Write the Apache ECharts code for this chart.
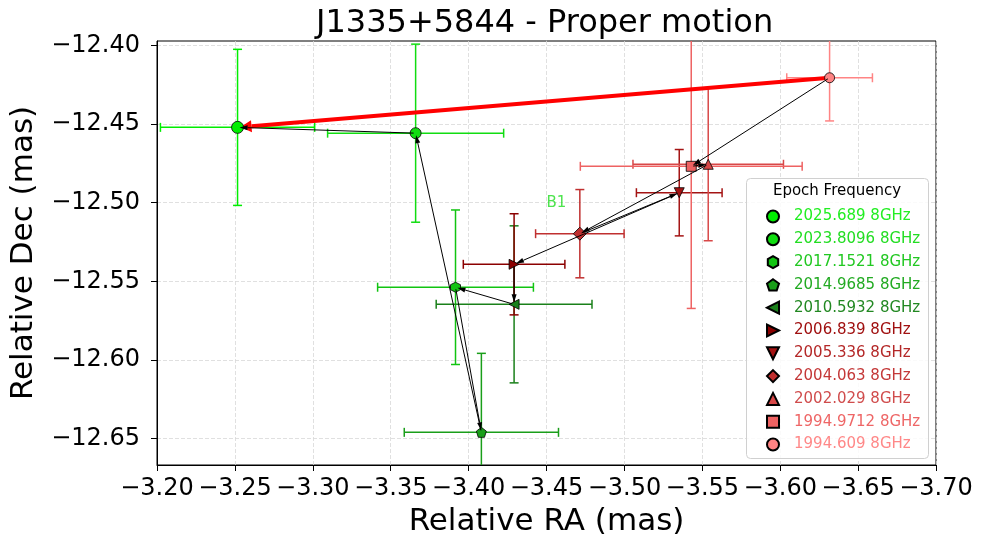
<!DOCTYPE html>
<html>
<head>
<meta charset="utf-8">
<script src="https://cdn.jsdelivr.net/npm/echarts@6/dist/echarts.min.js"></script>
<style>html,body{margin:0;padding:0;background:#fff}#chart{width:981px;height:545px}</style>
</head>
<body>
<div id="chart"></div>
<script>
// epochs, newest first (same order as the legend)
var epochs = ['2025.689', '2023.8096', '2017.1521', '2014.9685', '2010.5932', '2006.839', '2005.336', '2004.063', '2002.029', '1994.9712', '1994.609'];
var ra = [-3.2517, -3.3660, -3.3916, -3.4082, -3.4292, -3.4292, -3.5352, -3.4714, -3.5538, -3.5429, -3.6317];
var dec = [-12.4520, -12.4557, -12.5538, -12.6462, -12.5647, -12.5392, -12.4936, -12.5197, -12.4755, -12.4768, -12.4204];
var raErr = [0.0495, 0.0565, 0.0500, 0.0495, 0.0500, 0.0326, 0.0275, 0.0284, 0.0483, 0.0712, 0.0275];
var decErr = [0.0497, 0.0567, 0.0492, 0.0503, 0.0500, 0.0322, 0.0275, 0.0281, 0.0487, 0.0905, 0.0275];
// order in which the black arrows join the epochs (indices into epochs)
var arrowPath = [10, 9, 8, 7, 6, 5, 4, 2, 3, 1, 0];
var yTicks = [-12.65, -12.60, -12.55, -12.50, -12.45, -12.40];
var xRange = [-3.70, -3.20];
var yRange = [-12.667, -12.397];
var band = {text: 'B1', ra: -3.45, dec: -12.50};

var markerColors = ['#00ee00', '#11dd11', '#11c411', '#1a9e1a', '#1a801a', '#8b0000', '#a41414', '#c03030', '#d84848', '#ee6262', '#ff8484'];
var textColors = ['#22ee22', '#22dd22', '#22c822', '#22aa22', '#228822', '#a01010', '#b42828', '#c43838', '#d04c4c', '#ee6666', '#ff8888'];
var symbols = [
  'circle', 'circle',
  'path://M0,-1 L0.866,-0.5 L0.866,0.5 L0,1 L-0.866,0.5 L-0.866,-0.5 Z',
  'path://M0,-1 L0.951,-0.309 L0.588,0.809 L-0.588,0.809 L-0.951,-0.309 Z',
  'path://M-1,0 L1,-1 L1,1 Z',
  'path://M1,0 L-1,-1 L-1,1 Z',
  'path://M-1,-1 L1,-1 L0,1 Z',
  'diamond', 'triangle', 'rect', 'circle'
];
var sizes = [12, 11, 10, 10, 10, 10, 10, 13, 10, 10, 10];

var FONT = 'DejaVu Sans';
function fmt(v) {
  return (v < 0 ? '\u2212' : '') + Math.abs(v).toFixed(2);
}

var chart = echarts.init(document.getElementById('chart'));

var errData = epochs.map(function (e, i) { return [ra[i], dec[i], raErr[i], decErr[i], i]; });
var arrowData = [];
for (var k = 0; k < arrowPath.length - 1; k++) {
  var a = arrowPath[k], b = arrowPath[k + 1];
  arrowData.push([ra[a], dec[a], ra[b], dec[b]]);
}
var first = arrowPath[0], last = arrowPath[arrowPath.length - 1];
var bigArrow = [[ra[first], dec[first], ra[last], dec[last]]];

function errorBars(params, api) {
  var x = api.value(0), y = api.value(1), ex = api.value(2), ey = api.value(3);
  var c = api.coord([x, y]);
  var l = api.coord([x - ex, y]), r = api.coord([x + ex, y]);
  var t = api.coord([x, y + ey]), b = api.coord([x, y - ey]);
  var st = {stroke: markerColors[api.value(4)], lineWidth: 1.5};
  var cap = 4.5;
  return {
    type: 'group',
    children: [
      {type: 'line', shape: {x1: l[0], y1: c[1], x2: r[0], y2: c[1]}, style: st},
      {type: 'line', shape: {x1: c[0], y1: t[1], x2: c[0], y2: b[1]}, style: st},
      {type: 'line', shape: {x1: l[0], y1: c[1] - cap, x2: l[0], y2: c[1] + cap}, style: st},
      {type: 'line', shape: {x1: r[0], y1: c[1] - cap, x2: r[0], y2: c[1] + cap}, style: st},
      {type: 'line', shape: {x1: c[0] - cap, y1: t[1], x2: c[0] + cap, y2: t[1]}, style: st},
      {type: 'line', shape: {x1: c[0] - cap, y1: b[1], x2: c[0] + cap, y2: b[1]}, style: st}
    ]
  };
}

function arrowRenderer(opt) {
  return function (params, api) {
    var p1 = api.coord([api.value(0), api.value(1)]);
    var p2 = api.coord([api.value(2), api.value(3)]);
    var dx = p2[0] - p1[0], dy = p2[1] - p1[1];
    var len = Math.sqrt(dx * dx + dy * dy) || 1;
    var ux = dx / len, uy = dy / len;
    var sx = p1[0] + ux * opt.shrinkA, sy = p1[1] + uy * opt.shrinkA;
    var tx = p2[0] - ux * opt.shrinkB, ty = p2[1] - uy * opt.shrinkB;
    var bx = tx - ux * opt.head, by = ty - uy * opt.head;
    var nx = -uy * opt.width / 2, ny = ux * opt.width / 2;
    return {
      type: 'group',
      children: [
        {type: 'line', shape: {x1: sx, y1: sy, x2: bx, y2: by}, style: {stroke: opt.color, lineWidth: opt.lw}},
        {type: 'polygon', shape: {points: [[tx, ty], [bx + nx, by + ny], [bx - nx, by - ny]]}, style: {fill: opt.color}}
      ]
    };
  };
}

var series = [
  {
    type: 'custom', name: 'err', renderItem: errorBars, data: errData, clip: true, z: 1,
    encode: {x: 0, y: 1}, silent: true
  },
  {
    type: 'custom', name: 'motion', clip: true, z: 2, silent: true,
    renderItem: arrowRenderer({color: '#ff0000', lw: 4, head: 11, width: 12, shrinkA: 0, shrinkB: 3}),
    data: bigArrow, encode: {x: [0, 2], y: [1, 3]}
  }
];
epochs.forEach(function (e, i) {
  series.push({
    type: 'scatter', name: e + ' 8GHz', z: 3,
    symbol: symbols[i], symbolSize: sizes[i],
    itemStyle: {color: markerColors[i], borderColor: '#000', borderWidth: 0.8, opacity: 1},
    data: [[ra[i], dec[i]]]
  });
});
series.push({
  type: 'custom', name: 'path', clip: true, z: 4, silent: true,
  renderItem: arrowRenderer({color: '#000', lw: 1, head: 8, width: 5, shrinkA: 2, shrinkB: 2}),
  data: arrowData, encode: {x: [0, 2], y: [1, 3]}
});
series.push({
  type: 'scatter', name: 'band', z: 4, symbolSize: 0, silent: true,
  data: [[band.ra, band.dec]],
  label: {show: true, formatter: band.text, position: 'right', distance: 0,
    color: '#22dd22', fontFamily: FONT, fontSize: 15}
});

var option = {
  animation: false,
  backgroundColor: '#fff',
  textStyle: {fontFamily: FONT},
  title: {
    text: 'J1335+5844 - Proper motion',
    left: 311, top: 3,
    textStyle: {fontFamily: FONT, fontSize: 32, fontWeight: 'normal', color: '#000'}
  },
  grid: {left: 154, right: 45, top: 41, bottom: 80, show: true, borderColor: '#000', borderWidth: 1, backgroundColor: 'transparent'},
  xAxis: {
    type: 'value', inverse: true, min: xRange[0], max: xRange[1], interval: 0.05,
    name: 'Relative RA (mas)', nameLocation: 'middle', nameGap: 41,
    nameTextStyle: {fontFamily: FONT, fontSize: 31, color: '#000'},
    axisLine: {show: true, onZero: false, lineStyle: {color: '#000', width: 1}},
    axisTick: {show: true, length: 6, lineStyle: {color: '#000'}},
    axisLabel: {formatter: fmt, fontFamily: FONT, fontSize: 24, color: '#000', margin: 12},
    splitLine: {show: true, lineStyle: {color: '#d8d8d8', type: [4, 2], width: 0.8}}
  },
  yAxis: {
    type: 'value', min: yRange[0], max: yRange[1],
    name: 'Relative Dec (mas)', nameLocation: 'middle', nameGap: 118,
    nameTextStyle: {fontFamily: FONT, fontSize: 31, color: '#000'},
    axisLine: {show: true, onZero: false, lineStyle: {color: '#000', width: 1}},
    axisTick: {show: true, length: 6, lineStyle: {color: '#000'}, customValues: yTicks},
    axisLabel: {formatter: fmt, fontFamily: FONT, fontSize: 24, color: '#000', margin: 17, customValues: yTicks},
    splitLine: {show: true, lineStyle: {color: '#d8d8d8', type: [4, 2], width: 0.8}}
  },
  legend: {
    orient: 'vertical', left: 761, top: 204, z: 12,
    itemWidth: 12, itemHeight: 12, itemGap: 7.8,
    data: epochs.map(function (e, i) {
      return {name: e + ' 8GHz', textStyle: {color: textColors[i]}};
    }),
    textStyle: {fontFamily: FONT, fontSize: 15, lineHeight: 15, padding: [0, 0, 0, 10]},
    selectedMode: false
  },
  graphic: [
    {type: 'rect', left: 746, top: 178, z: 10,
      shape: {width: 182, height: 280, r: 4},
      style: {fill: 'rgba(255,255,255,0.82)', stroke: '#d0d0d0', lineWidth: 1}},
    {type: 'text', x: 837, y: 191, z: 12,
      style: {text: 'Epoch Frequency', font: '15px "DejaVu Sans"', fill: '#000', textAlign: 'center', textVerticalAlign: 'middle'}}
  ],
  series: series
};

chart.setOption(option);
</script>
</body>
</html>
